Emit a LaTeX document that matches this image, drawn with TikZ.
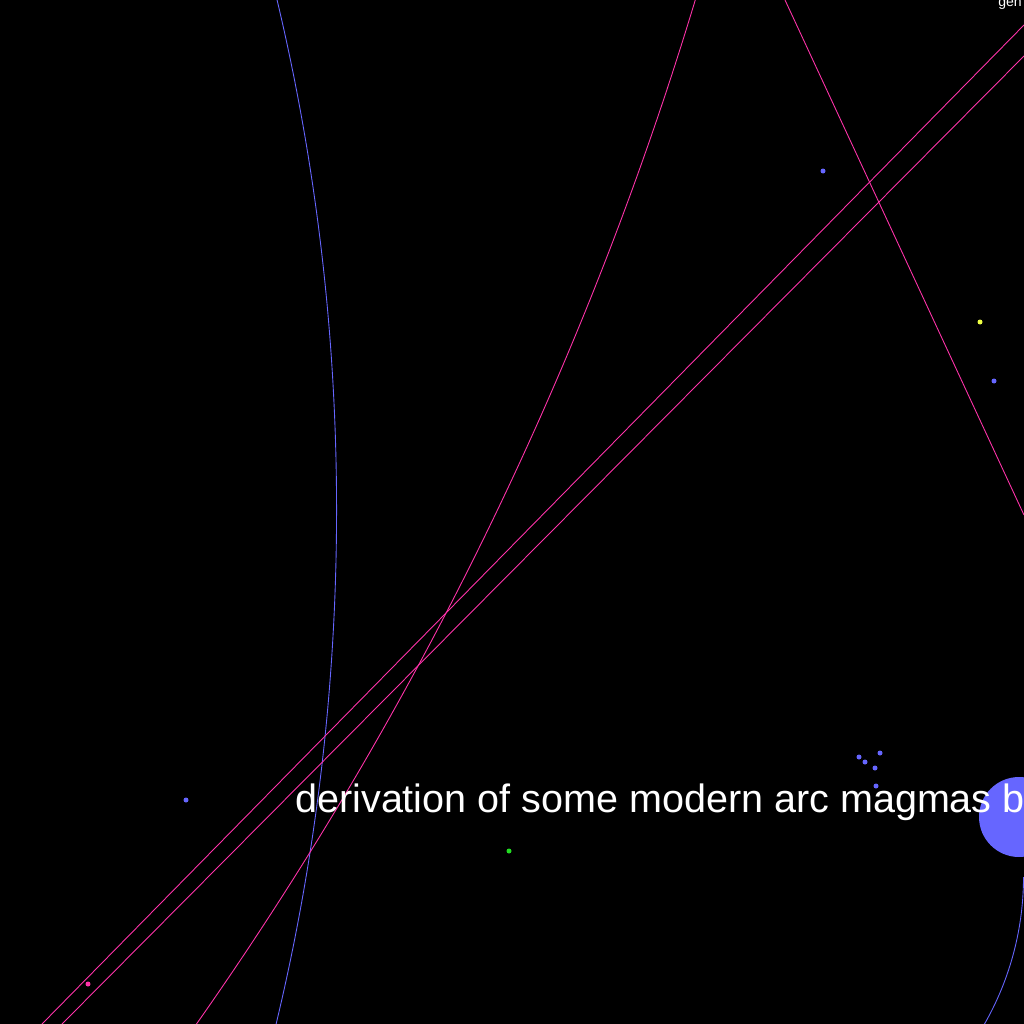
\documentclass[tikz,border=0pt]{standalone}
\usepackage{fontspec}
\setmainfont{Liberation Sans}
\definecolor{pinkline}{RGB}{255,51,170}
\definecolor{blueline}{RGB}{102,102,255}
\definecolor{greendot}{RGB}{34,221,34}
\definecolor{yellowdot}{RGB}{238,255,68}
\tikzset{
  curve/.style = {line width=0.5pt},
  dot/.style = {fill=#1, draw=none},
  label/.style = {text=white, inner sep=0pt}
}
\begin{document}
\begin{tikzpicture}[x=0.02cm, y=-0.02cm]
	\fill[black] (0,0) rectangle (1024,1024);
	\useasboundingbox (0,0) rectangle (1024,1024);
	\clip (0,0) rectangle (1024,1024);

	% large arcs
	\draw[curve, blueline] (-1860.5,510) circle (43.95cm);
	\draw[curve, pinkline] (-2747,-1041) circle (71.92cm);
	\draw[curve, blueline] (1023.5,877) arc[start angle=0, end angle=-40, radius=5.93cm];

	% straight lines
	\coordinate (p1) at (1024,25);
	\coordinate (q1) at (42,1024);
	\coordinate (p2) at (1024,56);
	\coordinate (q2) at (62,1024);
	\coordinate (p3) at (785,0);
	\coordinate (q3) at (1024,515);
	\draw[curve, pinkline] (p1) -- (q1);
	\draw[curve, pinkline] (p2) -- (q2);
	\draw[curve, pinkline] (p3) -- (q3);

	% big disc
	\fill[blueline] (1019,817) circle (0.8cm);

	% small dots
	\foreach \x/\y in {823/171, 994/381, 186/800, 859/757, 865/762, 880/753, 875/768, 876/786}{
			\fill[dot=blueline] (\x,\y) circle (0.05cm);
		}
	\fill[dot=yellowdot] (980,322) circle (0.05cm);
	\fill[dot=greendot] (509,851) circle (0.05cm);
	\fill[dot=pinkline] (88,984) circle (0.05cm);

	% texts
	\node (title)[label, anchor = base west] at (295,812)
		{\fontsize{22.5pt}{27pt}\selectfont derivation of some modern arc magmas by};
	\node (corner)[label, anchor = base west] at (998,7)
		{\fontsize{8pt}{10pt}\selectfont gen};
\end{tikzpicture}
\end{document}
